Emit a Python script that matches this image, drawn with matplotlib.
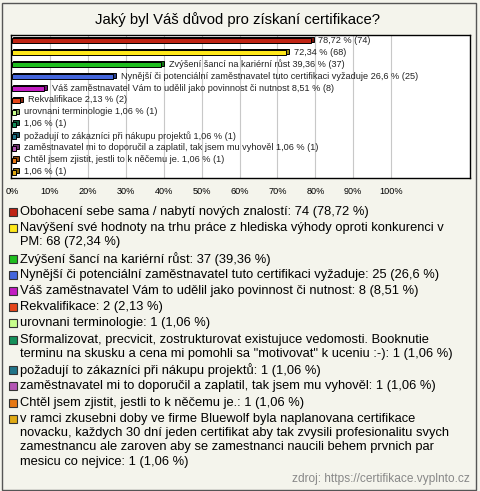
import matplotlib.pyplot as plt
from matplotlib.patches import Rectangle
from matplotlib.colors import to_rgb

plt.rcParams['font.family'] = ['Liberation Sans', 'DejaVu Sans']

# --- data --------------------------------------------------------------
names = [
    "Obohacení sebe sama / nabytí nových znalostí",
    "Navýšení své hodnoty na trhu práce z hlediska výhody oproti konkurenci v\nPM",
    "Zvýšení šancí na kariérní růst",
    "Nynější či potenciální zaměstnavatel tuto certifikaci vyžaduje",
    "Váš zaměstnavatel Vám to udělil jako povinnost či nutnost",
    "Rekvalifikace",
    "urovnani terminologie",
    "Sformalizovat, precvicit, zostrukturovat existujuce vedomosti. Booknutie\n"
    "terminu na skusku a cena mi pomohli sa \"motivovat\" k uceniu :-)",
    "požadují to zákazníci při nákupu projektů",
    "zaměstnavatel mi to doporučil a zaplatil, tak jsem mu vyhověl",
    "Chtěl jsem zjistit, jestli to k něčemu je.",
    "v ramci zkusebni doby ve firme Bluewolf byla naplanovana certifikace\n"
    "novacku, každych 30 dní jeden certifikat aby tak zvysili profesionalitu svych\n"
    "zamestnancu ale zaroven aby se zamestnanci naucili behem prvnich par\n"
    "mesicu co nejvice",
]
counts = [74, 68, 37, 25, 8, 2, 1, 1, 1, 1, 1, 1]
percents = [78.72, 72.34, 39.36, 26.6, 8.51, 2.13, 1.06, 1.06, 1.06, 1.06, 1.06, 1.06]
pct_text = ["78,72", "72,34", "39,36", "26,6", "8,51", "2,13",
            "1,06", "1,06", "1,06", "1,06", "1,06", "1,06"]
show_name = [False, False, True, True, True, True, True, False, True, True, True, False]
colors = ["#C02414", "#FFE81A", "#1EBE1E", "#4466DD", "#C21CC2", "#E6461A",
          "#C8FF8C", "#14905A", "#207488", "#B456B4", "#E67814", "#E0AA14"]
xticks = [0, 10, 20, 30, 40, 50, 60, 70, 80, 90, 100]
title = "Jaký byl Váš důvod pro získaní certifikace?"
source = "zdroj: https://certifikace.vyplnto.cz"

W, H = 480, 491
bg = "#F4F4EC"

def darker(c, f=0.6):
    r, g, b = to_rgb(c)
    return (r * f, g * f, b * f)

fig = plt.figure(figsize=(W / 100, H / 100), dpi=100, facecolor=bg)

# outer frame
fig.patches.append(Rectangle((1.5 / W, 1.5 / H), 474 / W, 487 / H, transform=fig.transFigure,
                             fill=False, edgecolor="#555555", linewidth=1.0))

fig.text(0.5 * (97 + 378) / W, 1 - 20 / H, title, ha="center", va="center", fontsize=10.7)

# bar chart area
ax = fig.add_axes([11 / W, 1 - 178 / H, 459 / W, 143 / H])
ax.set_facecolor("white")
ax.set_xlim(-0.3, 120.8)
ax.set_ylim(len(counts) - 0.5, -0.5)
for x in xticks[1:]:
    ax.axvline(x, color="#C8C8C8", linewidth=0.8, zorder=0)

bh = 0.42
for i, (p, c) in enumerate(zip(percents, colors)):
    # back face for the 3D look
    ax.barh(i - 0.12, p + 0.6, height=bh, left=0.2, color=darker(c), edgecolor="black",
            linewidth=0.7, zorder=2)
    ax.barh(i, p, height=bh, color=c, edgecolor="black", linewidth=0.7, zorder=3)
    lbl = "%s %% (%d)" % (pct_text[i], counts[i])
    if show_name[i]:
        lbl = names[i].replace("\n", " ") + " " + lbl
    ax.text(p + 2.0, i - 0.05, lbl, va="center", ha="left", fontsize=6.6,
            color="#222222", family=["Liberation Sans Narrow", "Liberation Sans"], zorder=4)

ax.set_xticks(xticks)
ax.set_xticklabels(["%d%%" % x for x in xticks], fontsize=6.6)
ax.set_yticks([])
ax.tick_params(axis="x", length=0, pad=6.5)
for s in ax.spines.values():
    s.set_linewidth(1.0)
    s.set_color("black")

# legend
y = 212.0
for i, name in enumerate(names):
    lines = ("%s: %d (%s %%)" % (name, counts[i], pct_text[i])).split("\n")
    fig.patches.append(Rectangle((9 / W, 1 - (y + 4) / H), 8 / W, 8 / H, transform=fig.transFigure,
                                 facecolor=colors[i], edgecolor="#333333", linewidth=0.8))
    for j, ln in enumerate(lines):
        fig.text(20 / W, 1 - y / H, ln, ha="left", va="center", fontsize=9.3, color="black")
        y += 14.3
    y += 1.9

fig.text(470 / W, 1 - 479 / H, source, ha="right", va="center", fontsize=8.6, color="#888888")

fig.savefig("out.png", dpi=100, facecolor=bg)
